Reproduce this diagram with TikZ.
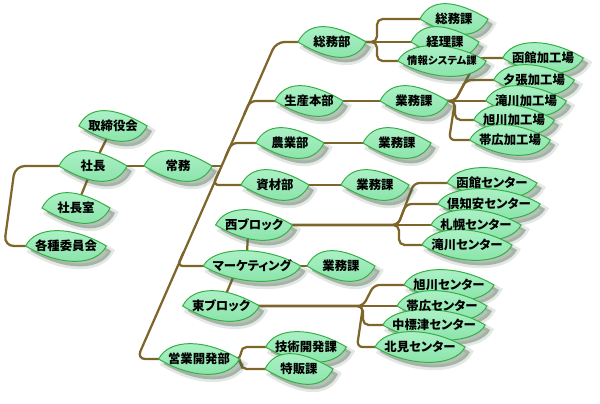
\documentclass[tikz,border=0pt]{standalone}
\usepackage{fontspec}
\setmainfont{Noto Sans CJK JP}[RawFeature=+palt]
\usepackage{tikz}
\definecolor{leaftop}{HTML}{B0F3CA}
\definecolor{leafbot}{HTML}{86E2A6}
\definecolor{leafline}{HTML}{36AE44}
\definecolor{linkc}{HTML}{7E6529}
\definecolor{shadowc}{HTML}{46664A}
\usetikzlibrary{calc}
\pgfdeclarelayer{links}
\pgfdeclarelayer{leaves}
\pgfsetlayers{links,leaves,main}
\tikzset{org/.style={
    inner xsep=6.5pt,
    inner ysep=0pt,
    minimum width=48pt,
    minimum height=20.6pt,
    font=\fontsize{8.8}{10}\selectfont\bfseries}}
\tikzset{link/.style={
    draw=linkc,
    line width=1.6pt,
    rounded corners=4pt}}
\tikzset{leaf/.style={
    draw=leafline,
    line width=0.7pt,
    top color=leaftop,
    bottom color=leafbot}}
\tikzset{leafshadow/.style={
    fill=shadowc,
    draw=shadowc,
    line width=4pt,
    fill opacity=0.4,
    draw opacity=0.15}}

\begin{document}
\begin{tikzpicture}[x=0.025cm, y=-0.025cm]
  \useasboundingbox (0,0) rectangle (600,403);

% left part
\node[org] (torishimari) at (113,126) {取締役会};
\node[org] (shachou) at (93,166) {社長};
\node[org] (shitsu) at (76,208) {社長室};
\node[org] (iinkai) at (66,246) {各種委員会};
\node[org] (joumu) at (178,166) {常務};

% departments
\node[org] (soumubu) at (332,42) {総務部};
\node[org] (soumuka) at (454,19) {総務課};
\node[org] (keiri) at (445,42) {経理課};
\node[org,
  font=\fontsize{7.4}{9}\selectfont\bfseries] (jouhou) at (442,61) {情報システム課};
\node[org] (seisan) at (309,101) {生産本部};
\node[org] (gyoumuA) at (414,101) {業務課};
\node[org] (hakodateK) at (543,58) {函館加工場};
\node[org] (yuubari) at (534,80) {夕張加工場};
\node[org] (takikawaK) at (526,101) {滝川加工場};
\node[org] (asahikawaK) at (514,120) {旭川加工場};
\node[org] (obihiroK) at (510,140) {帯広加工場};
\node[org] (nougyou) at (290,143) {農業部};
\node[org] (gyoumuB) at (397,143) {業務課};
\node[org] (shizai) at (275,185) {資材部};
\node[org] (gyoumuC) at (375,185) {業務課};

% blocks
\node[org] (nishi) at (254,225) {西ブロック};
\node[org] (hakodateC) at (492,183) {函館センター};
\node[org] (kutchan) at (489,204) {倶知安センター};
\node[org] (sapporo) at (476,225) {札幌センター};
\node[org] (takikawaC) at (467,245) {滝川センター};
\node[org] (mkt) at (252,266) {マーケティング};
\node[org] (gyoumuD) at (341,266) {業務課};
\node[org] (higashi) at (221,306) {東ブロック};
\node[org] (asahikawaC) at (449,285) {旭川センター};
\node[org] (obihiroC) at (442,306) {帯広センター};
\node[org] (nakashibetsu) at (434,325) {中標津センター};
\node[org] (kitami) at (420,347) {北見センター};
\node[org] (eigyou) at (199,359) {営業開発部};
\node[org] (gijutsu) at (306,347) {技術開発課};
\node[org] (tokuhan) at (299,369) {特販課};

% leaves
\begin{pgfonlayer}{leaves}
\foreach \n in {torishimari,shachou,shitsu,iinkai,joumu,
    soumubu,soumuka,keiri,jouhou,seisan,gyoumuA,
    hakodateK,yuubari,takikawaK,asahikawaK,obihiroK,
    nougyou,gyoumuB,shizai,gyoumuC,
    nishi,hakodateC,kutchan,sapporo,takikawaC,mkt,gyoumuD,
    higashi,asahikawaC,obihiroC,nakashibetsu,kitami,
    eigyou,gijutsu,tokuhan}{
  \path[leafshadow] ([shift={(5,5)}]\n.west)
    .. controls +(10,-20) and +(-35,-21) .. ([shift={(5,5)}]\n.east)
    .. controls +(-10,20) and +(35,21) .. ([shift={(5,5)}]\n.west) -- cycle;
  \path[leaf] (\n.west)
    .. controls +(10,-20) and +(-35,-21) .. (\n.east)
    .. controls +(-10,20) and +(35,21) .. (\n.west) -- cycle;
}
\end{pgfonlayer}

% connectors
\begin{pgfonlayer}{links}
  \draw[link] (torishimari.center) -- (shachou.center);
  \draw[link] (shachou.center) -- (shitsu.center);
  \draw[link, rounded corners=7pt] (shachou.center) -- (15,166) -- (4,246) -- (iinkai.center);
  \draw[link] (shachou.center) -- (joumu.center) -- (222,166);
  \draw[link, rounded corners=6pt] (soumubu.center) -- (276,42) -- (137,359) -- (eigyou.center);
  \draw[link] (243.9,115) -- (250,101) -- (seisan.center);
  \draw[link] (225.4,157) -- (231.6,143) -- (nougyou.center);
  \draw[link] (219.2,171) -- (213.1,185) -- (shizai.center);
  \draw[link] (183.6,252) -- (177.4,266) -- (mkt.center);
  \draw[link] ([xshift=-4pt]nishi.center) -- ([xshift=-4pt]mkt.center);
  \draw[link] ([xshift=-10pt]mkt.center) -- (higashi.center);
  \draw[link] (mkt.center) -- (gyoumuD.center);

  \draw[link] (soumubu.center) -- (keiri.center);
  \draw[link] (soumubu.center) -- (377,42) |- (soumuka.center);
  \draw[link] (soumubu.center) -- (377,42) |- (jouhou.center);

  \draw[link] (seisan.center) -- (gyoumuA.center) -- (takikawaK.center);
  \draw[link] (gyoumuA.center) -- (455,101) -- (478,58) -- (hakodateK.center);
  \draw[link] (gyoumuA.center) -- (455,101) -- (466,80) -- (yuubari.center);
  \draw[link] (gyoumuA.center) -- (455,101) |- (asahikawaK.center);
  \draw[link] (gyoumuA.center) -- (455,101) -- (449,140) -- (obihiroK.center);
  \draw[link] (nougyou.center) -- (gyoumuB.center);
  \draw[link] (shizai.center) -- (gyoumuC.center);

  \draw[link] (nishi.center) -- (sapporo.center);
  \draw[link] (nishi.center) -- (398,225) -- (414,183) -- (hakodateC.center);
  \draw[link] (nishi.center) -- (398,225) -- (406,204) -- (kutchan.center);
  \draw[link] (nishi.center) -- (399,225) |- (takikawaC.center);

  \draw[link] (higashi.center) -- (obihiroC.center);
  \draw[link] (higashi.center) -- (363,306) -- (374,285) -- (asahikawaC.center);
  \draw[link] (higashi.center) -- (363,306) |- (nakashibetsu.center);
  \draw[link] (higashi.center) -- (363,306) -- (357,347) -- (kitami.center);

  \draw[link] (eigyou.center) -- (241,359) |- (gijutsu.center);
  \draw[link] (eigyou.center) -- (241,359) |- (tokuhan.center);
\end{pgfonlayer}
\end{tikzpicture}
\end{document}
